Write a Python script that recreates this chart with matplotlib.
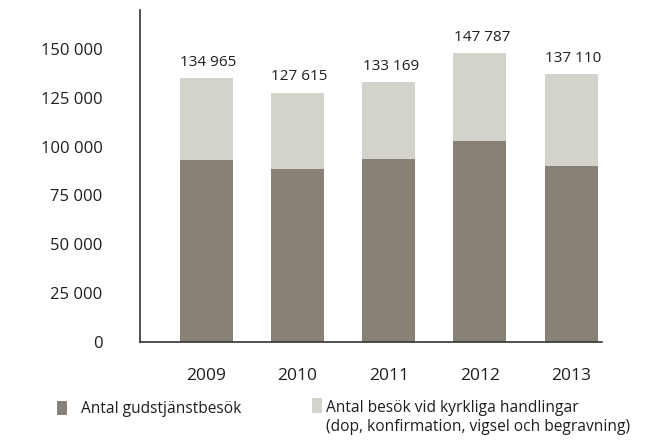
import matplotlib
matplotlib.use("Agg")
import matplotlib.pyplot as plt
from matplotlib.patches import Rectangle

years = ["2009", "2010", "2011", "2012", "2013"]
totals = [134965, 127615, 133169, 147787, 137110]
gudstjanst = [92900, 88300, 93600, 103000, 90200]
handlingar = [t - g for t, g in zip(totals, gudstjanst)]
total_labels = ["134 965", "127 615", "133 169", "147 787", "137 110"]
yticks = [0, 25000, 50000, 75000, 100000, 125000, 150000]
ytick_labels = ["0", "25 000", "50 000", "75 000", "100 000", "125 000", "150 000"]
legend_labels = ["Antal gudstjänstbesök",
                 "Antal besök vid kyrkliga handlingar\n(dop, konfirmation, vigsel och begravning)"]

dark = "#878176"
light = "#d3d2cb"
axcol = "#333333"
txt = "#1e1e1e"

plt.rcParams['font.family'] = ['Open Sans', 'DejaVu Sans']

W, H = 646, 443
fig = plt.figure(figsize=(W / 100, H / 100), dpi=100)
ax = fig.add_axes([140 / W, 1 - 341.7 / H, (602 - 140) / W, (341.7 - 10) / H])

x = list(range(len(years)))
bw = 0.58
ax.bar(x, gudstjanst, width=bw, color=dark, linewidth=0)
ax.bar(x, handlingar, width=bw, bottom=gudstjanst, color=light, linewidth=0)

for xi, t, lab in zip(x, totals, total_labels):
    ax.annotate(lab, (xi, t), xytext=(1.5, 6), textcoords="offset points",
                ha="center", va="bottom", fontsize=11, color=txt)

ax.set_xlim(-0.726, 4.338)
ax.set_ylim(0, 170000)
ax.set_xticks(x)
ax.set_xticklabels(years, fontsize=12.5, color=txt)
ax.set_yticks(yticks)
ax.set_yticklabels(ytick_labels, fontsize=12, color=txt)
ax.tick_params(axis="x", length=0, pad=19)
ax.tick_params(axis="y", length=0, pad=27)
for s in ["top", "right"]:
    ax.spines[s].set_visible(False)
for s in ["left", "bottom"]:
    ax.spines[s].set_color(axcol)
    ax.spines[s].set_linewidth(1.2)

# legend
def fx(px):
    return px / W

def fy(py):
    return 1 - py / H

for (x0, y1, col) in [(56.7, 415.0, dark), (311.7, 412.7, light)]:
    fig.patches.append(Rectangle((fx(x0), fy(y1)), 10 / W, 14.3 / H,
                                 transform=fig.transFigure, color=col, linewidth=0))
l1, l2 = legend_labels[1].split("\n")
lfs = 11.2
fig.text(fx(80.7), fy(413.3), legend_labels[0], fontsize=lfs, color=txt, va="baseline", ha="left")
fig.text(fx(326), fy(411.7), l1, fontsize=lfs, color=txt, va="baseline", ha="left")
fig.text(fx(326), fy(430.7), l2, fontsize=lfs, color=txt, va="baseline", ha="left")

fig.savefig("out.png", dpi=100)
